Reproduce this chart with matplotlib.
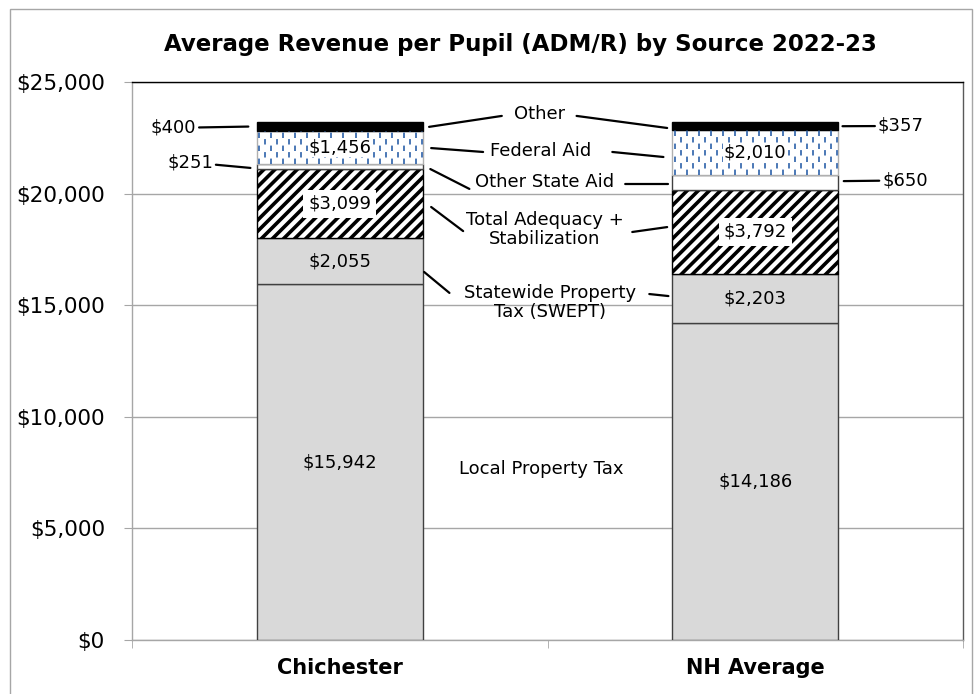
import matplotlib.pyplot as plt
from matplotlib.patches import Rectangle
import numpy as np

# datos
lugares = ['Chichester', 'NH Average']
fuentes = ['Local Property Tax', 'Statewide Property\nTax (SWEPT)',
           'Total Adequacy +\nStabilization', 'Other State Aid', 'Federal Aid', 'Other']
local_tax = [15942, 14186]
swept = [2055, 2203]
adequacy = [3099, 3792]
otra_estatal = [251, 650]
federal = [1456, 2010]
otros = [400, 357]

plt.rcParams['font.family'] = ['DejaVu Sans']
plt.rcParams['hatch.linewidth'] = 2.6

fig = plt.figure(figsize=(9.77, 6.94), dpi=100, facecolor='white')
ax = fig.add_axes([132/977, 54/694, 831/977, 558/694])

x = np.arange(len(lugares))
ancho = 0.4
borde = '#404040'
series = [local_tax, swept, adequacy, otra_estatal, federal, otros]
colores = ['#d9d9d9', '#d9d9d9', 'white', 'white', 'white', 'black']
tramas = [None, None, '///', None, None, None]
bordes = [borde, borde, 'black', borde, '#b0b0b0', 'black']
base = np.zeros(len(lugares))
barras = []
for vals, col, tr, ed in zip(series, colores, tramas, bordes):
    b = ax.bar(x, vals, ancho, bottom=base, color=col, edgecolor=ed, linewidth=1,
               hatch=tr, zorder=3)
    barras.append((b, base.copy(), np.array(vals)))
    base = base + np.array(vals)

# patron de rayas discontinuas azules para Federal Aid
b_fed, base_fed, vals_fed = barras[4]
for i, rect in enumerate(b_fed):
    x0 = rect.get_x()
    xs = np.arange(x0 + 0.006, x0 + ancho, 0.0145)
    for k, xv in enumerate(xs):
        ln = ax.vlines(xv, base_fed[i], base_fed[i] + vals_fed[i], colors='#3d6db0',
                       linewidth=1.3, linestyles=(3.6 if k % 2 else 0, (3.0, 4.2)), zorder=4)
        ln.set_clip_path(rect)

# etiquetas dentro de las barras
for idx in [0, 1, 2, 4]:
    b, bs, vals = barras[idx]
    for i in range(len(lugares)):
        caja = None
        if idx == 2:
            caja = dict(facecolor='white', edgecolor='none', pad=3.5)
        elif idx == 4:
            caja = dict(facecolor='white', edgecolor='none', pad=0.5)
        ax.text(x[i], bs[i] + vals[i] / 2, '${:,}'.format(vals[i]), ha='center', va='center',
                fontsize=13, bbox=caja, zorder=6)

# etiquetas externas pequenas
lin = dict(arrowstyle='-', color='black', lw=1.6, shrinkA=0, shrinkB=0)
top_c = base[0]
ax.annotate('${:,}'.format(otros[0]), xy=(-0.22, top_c - otros[0] / 2), xytext=(-0.40, top_c - otros[0] / 2 - 60),
            ha='center', va='center', fontsize=13, arrowprops=lin)
ax.annotate('${:,}'.format(otra_estatal[0]), xy=(-0.215, 21150), xytext=(-0.36, 21400),
            ha='center', va='center', fontsize=13, arrowprops=lin)
ax.annotate('${:,}'.format(otros[1]), xy=(1.21, base[1] - otros[1] / 2), xytext=(1.35, 23030),
            ha='center', va='center', fontsize=13, arrowprops=lin)
ax.annotate('${:,}'.format(otra_estatal[1]), xy=(1.213, 20560), xytext=(1.36, 20590),
            ha='center', va='center', fontsize=13, arrowprops=lin)

# nombres de las fuentes en el centro con lineas guia
guia = [
    ('Other', (0.48, 23560), [((0.215, 22990), (0.39, 23480)), ((0.57, 23480), (0.788, 22940))]),
    ('Federal Aid', (0.483, 21900), [((0.22, 22040), (0.345, 21865)), ((0.656, 21865), (0.779, 21640))]),
    ('Other State Aid', (0.492, 20510), [((0.218, 21100), (0.312, 20210)), ((0.687, 20430), (0.79, 20430))]),
    ('Total Adequacy +\nStabilization', (0.494, 18400), [((0.22, 19400), (0.297, 18320)), ((0.704, 18280), (0.788, 18500))]),
    ('Statewide Property\nTax (SWEPT)', (0.507, 15130), [((0.203, 16490), (0.264, 15550)), ((0.745, 15500), (0.791, 15410))]),
    ('Local Property Tax', (0.485, 7660), []),
]
for nombre, pos, lineas in guia:
    ax.text(pos[0], pos[1], nombre, ha='center', va='center', fontsize=13, linespacing=1.1, zorder=6)
    for p0, p1 in lineas:
        ax.annotate('', xy=p1, xytext=p0, arrowprops=lin)

ax.set_xlim(-0.5, 1.5)
ax.set_ylim(0, 25000)
ax.set_yticks(np.arange(0, 25001, 5000))
ax.set_yticklabels(['${:,}'.format(v) for v in range(0, 25001, 5000)], fontsize=15.5)
ax.set_xticks(x)
ax.set_xticklabels(lugares, fontsize=15, fontweight='bold')
ax.set_xticks([-0.5, 0.5, 1.5], minor=True)
ax.tick_params(axis='x', which='major', length=0, pad=13)
ax.tick_params(axis='x', which='minor', length=6, color='#a6a6a6')
ax.tick_params(axis='y', length=6, color='#a6a6a6', pad=13.5)
ax.grid(axis='y', color='#a6a6a6', linewidth=1, zorder=0)
ax.set_axisbelow(True)
ax.spines['left'].set_color('#a6a6a6')
ax.spines['bottom'].set_color('#a6a6a6')
ax.spines['top'].set_color('black')
ax.spines['right'].set_color('#595959')
for s in ax.spines.values():
    s.set_linewidth(1)

fig.text(520/977, 1 - 45/694, 'Average Revenue per Pupil (ADM/R) by Source 2022-23',
         ha='center', va='center', fontsize=16.5, fontweight='bold')

fig.patches.append(Rectangle((10/977, -0.1), 962/977, 1.1 - 9/694, transform=fig.transFigure,
                             facecolor='none', edgecolor='#a6a6a6', linewidth=1))

plt.savefig('out.png', dpi=100)
